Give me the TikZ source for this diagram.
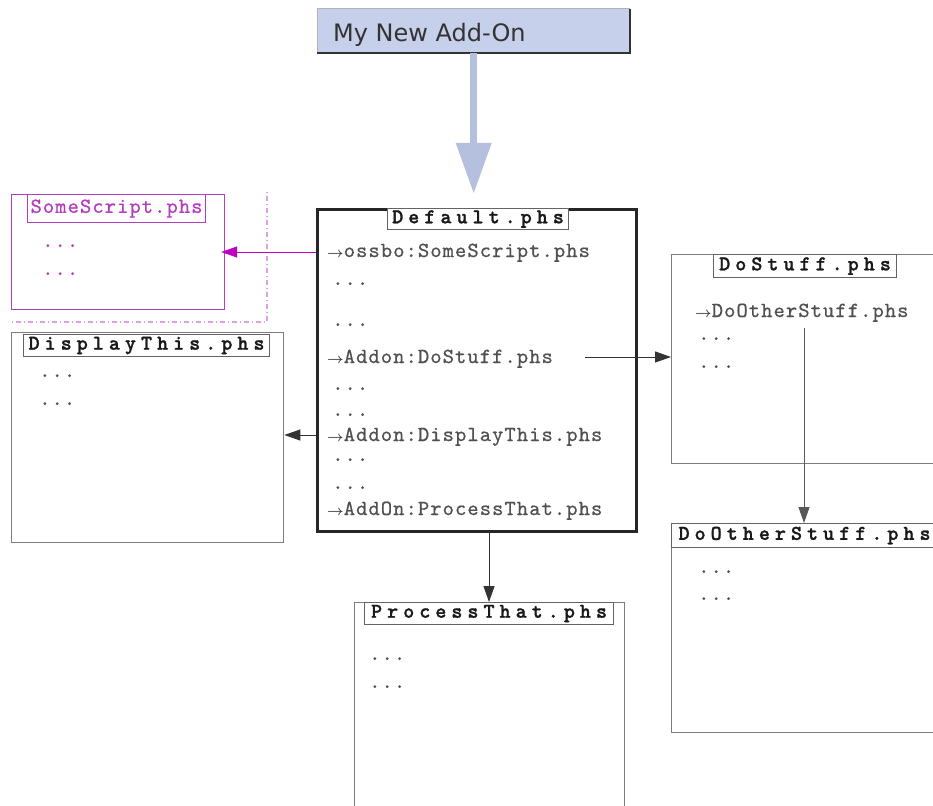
\documentclass[tikz,border=0pt]{standalone}
\usepackage{amsmath}
\usepackage{fontspec}
\usetikzlibrary{arrows.meta}

% fonts: sans label, typewriter listings, spaced bold typewriter titles
\newfontfamily\labelfont{DejaVu Sans}
\newfontfamily\codefont{lmmono10-regular.otf}[LetterSpace=5,FakeBold=0.6]
\newfontfamily\titlefont{lmmonolt10-bold.otf}[LetterSpace=24,FakeBold=1.2]

\definecolor{addonfill}{RGB}{198,208,234}
\definecolor{addonarrow}{RGB}{180,192,222}
\definecolor{boxgray}{RGB}{125,125,125}
\definecolor{titlegray}{RGB}{100,100,100}
\definecolor{itemgray}{RGB}{80,80,80}
\definecolor{magbox}{RGB}{180,60,190}
\definecolor{magarrow}{RGB}{190,0,190}
\definecolor{magdot}{RGB}{222,160,222}

% small arrow that starts each call line
\newcommand\fwd{{\fontsize{15}{15}\selectfont\color{black!75}$\boldsymbol{\rightarrow}$}}

\tikzset{
  filebox/.style={draw=boxgray, line width=1.3pt, fill=white, anchor=north west, inner sep=0pt},
  titlebox/.style={draw=titlegray, line width=1.1pt, fill=white, anchor=north west, inner sep=0pt,
    font=\titlefont\fontsize{21}{21}\selectfont, text=black!90},
  item/.style={anchor=base west, inner sep=0pt, font=\codefont\fontsize{21.5}{21.5}\selectfont, text=itemgray},
  link/.style={draw=black!80, line width=1pt, -{Triangle[length=16pt,width=11pt]}},
}

\begin{document}
\begin{tikzpicture}[x=1pt,y=-1pt]
\useasboundingbox (0,0) rectangle (933,805);
\clip (0,0) rectangle (933,805);
\fill[white] (0,0) rectangle (933,805);

% ---------- add-on header ----------
\node[anchor=north west, minimum width=313, minimum height=44, fill=addonfill, inner sep=0pt] (addon) at (317,9) {};
\draw[black!30, line width=1pt] (addon.south west) -- (addon.north west) -- (addon.north east);
\draw[black!80, line width=2pt] (addon.north east) -- (addon.south east) -- (addon.south west);
\node[anchor=base west, inner sep=0pt, font=\labelfont\fontsize{24}{24}\selectfont, text=black!80] (addontext) at (333,42) {My New Add-On};

% ---------- main script ----------
\node[filebox, draw=black!85, line width=3pt, minimum width=319, minimum height=322] (default) at (316,208) {};
\node[titlebox, minimum width=181, minimum height=21] (defaulttitle) at (387,208) {Default.phs};
\node[item] (d1)  at (327,257) {\fwd ossbo:SomeScript.phs};
\node[item] (d2)  at (332,285) {...};
\node[item] (d3)  at (332,326) {...};
\node[item] (d4)  at (327,363) {\fwd Addon:DoStuff.phs};
\node[item] (d5)  at (332,390) {...};
\node[item] (d6)  at (332,416) {...};
\node[item] (d7)  at (327,441) {\fwd Addon:DisplayThis.phs};
\node[item] (d8)  at (332,461) {...};
\node[item] (d9)  at (332,489) {...};
\node[item] (d10) at (327,515) {\fwd AddOn:ProcessThat.phs};

% blue arrow from the header into the main script
\draw[addonarrow, line width=7pt, -{Triangle[length=50pt,width=36pt,line width=0pt]}, shorten >=15pt]
  (addon.south) -- (addon.south |- default.north);

% ---------- external script (magenta) ----------
\draw[magdot, line width=1.3pt, dash pattern=on 1pt off 3pt on 5pt off 3pt] (267,192) -- (267,322) -- (10,322);
\node[filebox, draw=magbox, line width=1.2pt, minimum width=213, minimum height=115] (somescript) at (11,194) {};
\node[titlebox, draw=magbox, font=\codefont\fontsize{21.5}{21.5}\selectfont, text=magbox,
      minimum width=178, minimum height=28] (sstitle) at (27,194) {SomeScript.phs};
\node[item, text=magbox] (s1) at (42,247) {...};
\node[item, text=magbox] (s2) at (42,275) {...};

% ---------- DisplayThis ----------
\node[filebox, minimum width=272, minimum height=210] (display) at (11,332) {};
\node[titlebox, minimum width=246, minimum height=22] (displaytitle) at (23,334) {DisplayThis.phs};
\node[item] (t1) at (39,377) {...};
\node[item] (t2) at (39,405) {...};

% ---------- DoStuff ----------
\node[filebox, minimum width=300, minimum height=209] (dostuff) at (671,254) {};
\node[titlebox, minimum width=183, minimum height=23] (dostufftitle) at (713,254) {DoStuff.phs};
\node[item] (u1) at (695,317) {\fwd DoOtherStuff.phs};
\node[item] (u2) at (698,340) {...};
\node[item] (u3) at (698,368) {...};

% ---------- DoOtherStuff ----------
\node[filebox, minimum width=300, minimum height=209] (doother) at (671,523) {};
\node[titlebox, inner xsep=6pt, minimum width=280, minimum height=24, text width=266, align=left] (dootitle) at (671,523) {DoOtherStuff.phs};
\node[item] (o1) at (698,573) {...};
\node[item] (o2) at (698,600) {...};

% ---------- ProcessThat ----------
\node[filebox, minimum width=270, minimum height=260] (process) at (354,602) {};
\node[titlebox, minimum width=249, minimum height=22] (processtitle) at (364,602) {ProcessThat.phs};
\node[item] (p1) at (369,660) {...};
\node[item] (p2) at (369,688) {...};

% ---------- call connectors ----------
\coordinate (ssrow) at (0,252);
\coordinate (dtrow) at (0,435);
\coordinate (dsfrom) at (585,357);
\coordinate (dofrom) at (804,328);
\coordinate (ptcol) at (489,0);

\draw[magarrow, line width=1pt, -{Triangle[length=16pt,width=11pt]}, shorten >=-4pt]
  (default.west |- ssrow) -- (somescript.east |- ssrow);
\draw[link] (default.west |- dtrow) -- (display.east |- dtrow);
\draw[link] (dsfrom) -- (dostuff.west |- dsfrom);
\draw[link, draw=black!65] (dofrom) -- (doother.north -| dofrom);
\draw[link] (default.south -| ptcol) -- (process.north -| ptcol);
\end{tikzpicture}
\end{document}
